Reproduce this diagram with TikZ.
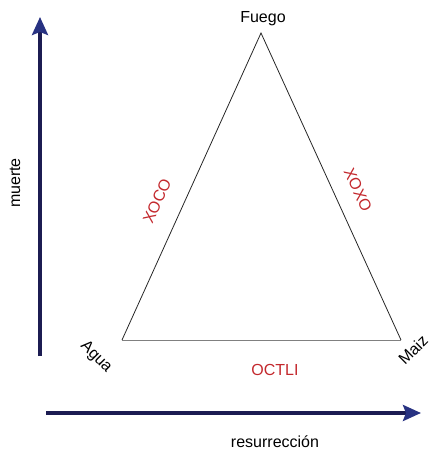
\documentclass[tikz,border=0pt]{standalone}
\usepackage{fontspec}
\setmainfont{Liberation Sans}
\usetikzlibrary{arrows.meta}
\definecolor{axisblue}{RGB}{28,28,82}
\definecolor{tipblue}{RGB}{40,50,130}
\definecolor{labelred}{RGB}{195,40,45}
\begin{document}
\begin{tikzpicture}[x=1pt,y=-1pt]
\useasboundingbox (0,0) rectangle (439,457);
\tikzset{
  lbl/.style={inner sep=0pt, font=\fontsize{16}{19}\selectfont},
  red lbl/.style={lbl, text=labelred},
  axis/.style={line width=3.5pt, axisblue, -{Stealth[length=18pt, width=16pt, inset=3pt, color=tipblue, fill=tipblue]}}
}
% triangle corners
\coordinate (fuego) at (261,33);
\coordinate (agua) at (122,340);
\coordinate (maiz) at (401,340);

\node[lbl] (fuegoLbl) at (263,19) {Fuego};
\node[lbl, rotate=-45] (aguaLbl) at (96,357) {Agua};
\node[lbl, rotate=45] (maizLbl) at (413,350) {Maiz};

\draw[line width=0.8pt, black!85] (agua) -- (fuego) -- (maiz);
\draw[line width=0.8pt, black!50] (agua) -- (maiz);

\node[red lbl, rotate=65.6] (xoco) at (157,201) {XOCO};
\node[red lbl, rotate=-65.6] (xoxo) at (358,190) {XOXO};
\node[red lbl] (octli) at (275,370) {OCTLI};

% axes
\coordinate (vStart) at (40,356);
\coordinate (vEnd) at (40,17);
\coordinate (hStart) at (46,413);
\coordinate (hEnd) at (421,413);
\draw[axis] (vStart) -- (vEnd);
\draw[axis] (hStart) -- (hEnd);

\node[lbl, rotate=90] (muerte) at (15,183) {muerte};
\node[lbl] (resurreccion) at (275,442) {resurrección};
\end{tikzpicture}
\end{document}
